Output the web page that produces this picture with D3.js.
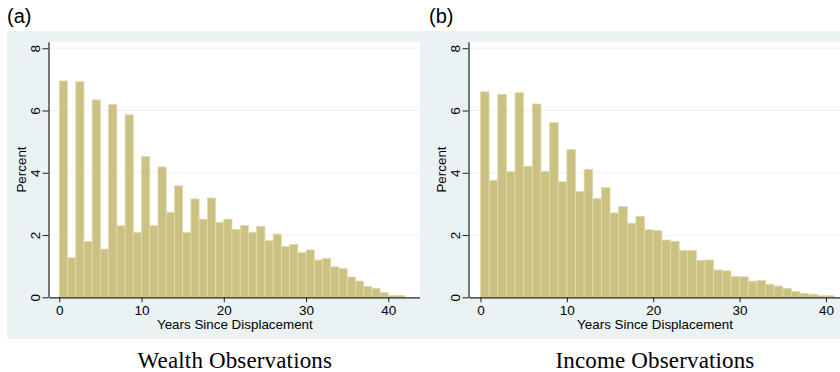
<!DOCTYPE html>
<html>
<head>
<meta charset="utf-8">
<script src="https://cdn.jsdelivr.net/npm/d3@7"></script>
<style>
  body { margin: 0; background: #fff; }
  svg { display: block; }
  .tick text { font-family: "Liberation Sans", Arial, sans-serif; font-size: 13.5px; fill: #000; }
  .axis-title { font-family: "Liberation Sans", Arial, sans-serif; font-size: 13.4px; fill: #000; }
  .panel-tag { font-family: "Liberation Sans", Arial, sans-serif; font-size: 20px; fill: #000; }
  .caption { font-family: "Liberation Serif", "Times New Roman", serif; font-size: 23px; letter-spacing: 0.15px; fill: #000; }
</style>
</head>
<body>
<div id="chart"></div>
<script>
// Histogram heights (percent), one bin per year since displacement, starting at 0
const wealthPct = [6.95, 1.27, 6.93, 1.79, 6.34, 1.55, 6.20, 2.30, 5.86, 2.08,
                   4.52, 2.30, 4.19, 2.73, 3.58, 2.08, 3.16, 2.51, 3.19, 2.41,
                   2.51, 2.18, 2.31, 2.09, 2.28, 1.82, 2.03, 1.63, 1.70, 1.44,
                   1.52, 1.20, 1.25, 0.98, 0.93, 0.65, 0.52, 0.35, 0.29, 0.15,
                   0.06, 0.06];
const incomePct = [6.60, 3.76, 6.52, 4.04, 6.57, 4.21, 6.21, 4.05, 5.61, 3.71,
                   4.75, 3.40, 4.11, 3.18, 3.53, 2.71, 2.92, 2.38, 2.60, 2.17,
                   2.15, 1.84, 1.80, 1.50, 1.50, 1.19, 1.20, 0.88, 0.85, 0.67,
                   0.66, 0.52, 0.54, 0.42, 0.36, 0.29, 0.19, 0.13, 0.10, 0.05,
                   0.05];
const binWidth = 1;
const xTicks = [0, 10, 20, 30, 40];
const yTicks = [0, 2, 4, 6, 8];
const panelTags = ["(a)", "(b)"];
const captions = ["Wealth Observations", "Income Observations"];
const xTitle = "Years Since Displacement";
const yTitle = "Percent";

const W = 840, H = 372;
const svg = d3.select("#chart").append("svg").attr("width", W).attr("height", H);

const panels = [
  { values: wealthPct, bg: [7, 31, 413, 308], plot: { left: 49, right: 420.7 }, xDomain: [-1.25, 43.94] },
  { values: incomePct, bg: [420, 31, 440, 308], plot: { left: 469, right: 841 }, xDomain: [-1.33, 41.74] }
];
const plotTop = 41.7, plotBottom = 297.3;

panels.forEach((p, k) => {
  const g = svg.append("g");

  // graph region
  g.append("rect")
    .attr("x", p.bg[0]).attr("y", p.bg[1])
    .attr("width", p.bg[2]).attr("height", p.bg[3])
    .attr("fill", "#eaf2f3");

  // plot region
  g.append("rect")
    .attr("x", p.plot.left).attr("y", plotTop)
    .attr("width", p.plot.right - p.plot.left).attr("height", plotBottom - plotTop)
    .attr("fill", "#fff");

  const x = d3.scaleLinear().domain(p.xDomain).range([p.plot.left, p.plot.right]);
  const y = d3.scaleLinear().domain([0, 8.21]).range([plotBottom, plotTop]);

  // gridlines
  g.append("g").selectAll("line")
    .data(yTicks.filter(t => t > 0))
    .join("line")
    .attr("x1", p.plot.left).attr("x2", p.plot.right)
    .attr("y1", d => y(d)).attr("y2", d => y(d))
    .attr("stroke", "#eaf2f3").attr("stroke-width", 1);

  // bars
  g.append("g").selectAll("rect")
    .data(p.values)
    .join("rect")
    .attr("x", (d, i) => x(i * binWidth))
    .attr("width", (d, i) => x((i + 1) * binWidth) - x(i * binWidth))
    .attr("y", d => y(d))
    .attr("height", d => y(0) - y(d))
    .attr("fill", "#cbc182")
    .attr("stroke", "#e2dbab")
    .attr("stroke-width", 0.8);

  // axes
  const xAxis = g.append("g")
    .attr("transform", `translate(0,${plotBottom})`)
    .call(d3.axisBottom(x).tickValues(xTicks).tickSize(5).tickPadding(3).tickSizeOuter(0));
  xAxis.select(".domain").attr("stroke", "#222").attr("stroke-width", 1.2);
  xAxis.selectAll(".tick line").attr("stroke", "#222");

  const yAxis = g.append("g")
    .attr("transform", `translate(${p.plot.left - 0.5},0)`)
    .call(d3.axisLeft(y).tickValues(yTicks).tickSize(6).tickSizeOuter(0));
  yAxis.select(".domain").attr("stroke", "#222").attr("stroke-width", 1.2);
  yAxis.selectAll(".tick line").attr("stroke", "#222");
  yAxis.selectAll(".tick text")
    .attr("x", null).attr("dy", null)
    .attr("text-anchor", "middle")
    .attr("transform", "translate(-8.5,0) rotate(-90)");

  const midX = (p.plot.left + p.plot.right) / 2;

  g.append("text")
    .attr("class", "axis-title")
    .attr("text-anchor", "middle")
    .attr("x", midX)
    .attr("y", 329)
    .text(xTitle);

  g.append("text")
    .attr("class", "axis-title")
    .attr("text-anchor", "middle")
    .attr("transform", `translate(${p.plot.left - 23},${(plotTop + plotBottom) / 2}) rotate(-90)`)
    .text(yTitle);

  g.append("text")
    .attr("class", "panel-tag")
    .attr("x", p.bg[0] + (k === 0 ? 0 : 9))
    .attr("y", 23)
    .text(panelTags[k]);

  g.append("text")
    .attr("class", "caption")
    .attr("text-anchor", "middle")
    .attr("x", midX)
    .attr("y", 368)
    .text(captions[k]);
});
</script>
</body>
</html>
